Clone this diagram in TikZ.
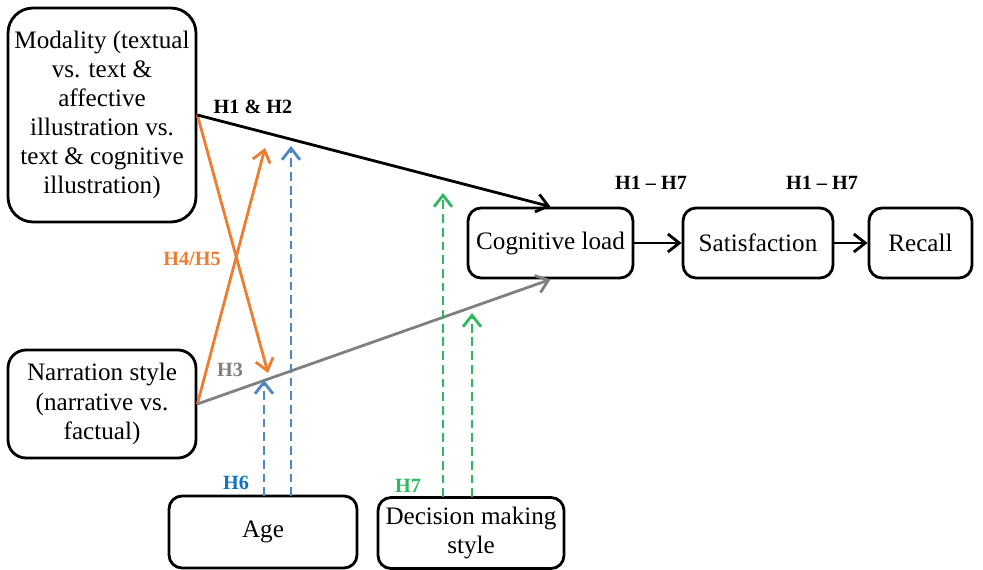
\documentclass[tikz,border=0pt]{standalone}
\usepackage{fontspec}
\setmainfont{Liberation Serif}
\usetikzlibrary{arrows.meta}

\definecolor{hOrange}{HTML}{ED7D31}
\definecolor{hBlue}{HTML}{4F86C6}
\definecolor{hBlueText}{HTML}{0E74C0}
\definecolor{hGreen}{HTML}{2FB85E}
\definecolor{hGray}{HTML}{808080}

\begin{document}
\begin{tikzpicture}[x=0.02cm, y=-0.02cm,
            main node/.style={draw, line width=1.6pt, rounded corners=0.26cm, align=center,
                font=\fontsize{14.3}{16.6}\selectfont, minimum height=1.4cm, inner sep=1pt},
            hyp label/.style={font=\fontsize{11.5}{13}\selectfont\bfseries},
            path line/.style={line width=1.6pt, -{Straight Barb[length=2.3mm, width=3.6mm, line width=1.6pt]}},
            mod line/.style={path line, dashed, dash pattern=on 5pt off 2.8pt, line width=1.5pt},
            ]

            \useasboundingbox (0,0) rectangle (983,570);

            \node[main node, rounded corners=0.5cm, minimum width=3.76cm, minimum height=4.28cm] (mod) at (102,115)
                {Modality (textual\\vs. text \&\\affective\\illustration vs.\\text \& cognitive\\illustration)};
            \node[main node, rounded corners=0.36cm, minimum width=3.76cm, minimum height=2.16cm] (narr) at (102,404)
                {Narration style\\(narrative vs.\\factual)};
            \node[main node, minimum width=3.76cm, minimum height=1.44cm] (age) at (263,532) {Age};
            \node[main node, minimum width=3.72cm, minimum height=1.42cm] (dms) at (471,533) {Decision making\\style};
            \node[main node, minimum width=3.3cm] (cog) at (550.5,243) {Cognitive load};
            \node[main node, minimum width=3.0cm] (sat) at (758,243) {Satisfaction};
            \node[main node, minimum width=2.06cm] (rec) at (920.5,243) {Recall};

            % ends of the moderation arrows
            \coordinate (o1) at (268,373);
            \coordinate (o2) at (265,148);
            \coordinate (b1s) at (264,496);
            \coordinate (b1) at (264,380);
            \coordinate (b2s) at (291,496);
            \coordinate (b2) at (291,146);
            \coordinate (g1s) at (443,497);
            \coordinate (g1) at (443,193);
            \coordinate (g2s) at (472,497);
            \coordinate (g2) at (472,313);

            \draw[path line, hOrange] (mod.east) -- (o1);
            \draw[path line, hOrange] (narr.east) -- (o2);
            \draw[path line] (mod.east) -- (cog.north);
            \draw[path line, hGray] (narr.east) -- (cog.south);
            \draw[mod line, hBlue] (b1s) -- (b1);
            \draw[mod line, hBlue] (b2s) -- (b2);
            \draw[mod line, hGreen] (g1s) -- (g1);
            \draw[mod line, hGreen] (g2s) -- (g2);
            \draw[path line] (cog) -- (sat);
            \draw[path line] (sat) -- (rec);

            \node[hyp label] (l12) at (253,107) {H1 \& H2};
            \node[hyp label, hOrange] (l45) at (192,259) {H4/H5};
            \node[hyp label, hGray] (l3) at (230,370) {H3};
            \node[hyp label, hBlueText] (l6) at (236,483) {H6};
            \node[hyp label, hGreen] (l7) at (408,486) {H7};
            \node[hyp label] (l17a) at (651,183) {H1 – H7};
            \node[hyp label] (l17b) at (822,183) {H1 – H7};
        \end{tikzpicture}
\end{document}
